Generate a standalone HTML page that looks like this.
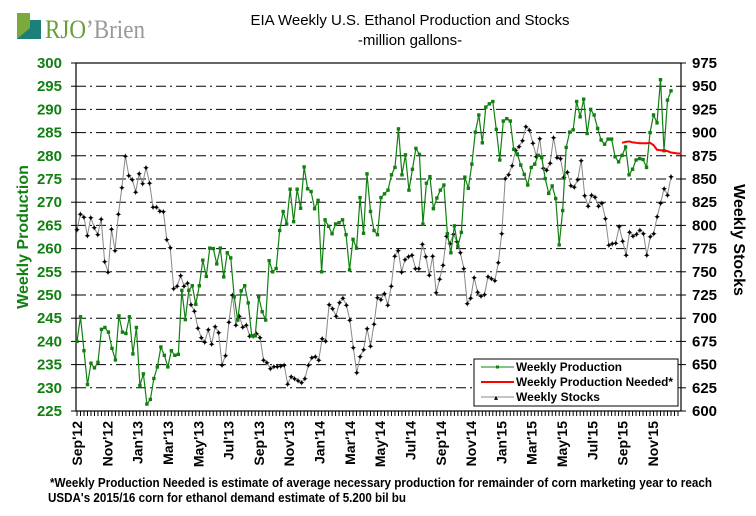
<!DOCTYPE html>
<html><head><meta charset="utf-8"><style>
body{margin:0;background:#fff;}
svg{display:block;font-family:"Liberation Sans",Arial,sans-serif;}
</style></head><body>
<svg id="chart" width="756" height="516" viewBox="0 0 756 516" xmlns="http://www.w3.org/2000/svg">
<rect width="756" height="516" fill="#fff"/>
<g>
<rect x="17" y="13" width="24" height="26" fill="#7aa93c"/>
<polygon points="17,39 41,39 41,20 30,20 30,28" fill="#1b7f7a"/>
<rect x="30" y="13" width="11" height="7" fill="#fff"/>
<text x="45" y="38" font-family="Liberation Serif,serif" font-size="26" fill="#6a9d3a" textLength="100" lengthAdjust="spacingAndGlyphs">RJO<tspan fill="#999">’Brien</tspan></text>
</g>
<text x="410" y="25" text-anchor="middle" font-size="15">EIA Weekly U.S. Ethanol Production and Stocks</text>
<text x="410" y="45" text-anchor="middle" font-size="15">-million gallons-</text>
<g id="grid"></g>
<g id="axes"></g>
<g id="series"></g>
<text transform="translate(28,237) rotate(-90)" text-anchor="middle" font-size="16" font-weight="bold" fill="#118011">Weekly Production</text>
<text transform="translate(734,240) rotate(90)" text-anchor="middle" font-size="16" font-weight="bold" fill="#000">Weekly Stocks</text>
<g>
<rect x="474" y="359" width="204" height="47" fill="#fff" stroke="#000" stroke-width="1"/>
<g>
<line x1="481" y1="367" x2="514" y2="367" stroke="#118011" stroke-width="1"/><rect x="496" y="365.5" width="3" height="3" fill="#118011"/>
<text x="516" y="371" font-size="12" font-weight="bold" textLength="106" lengthAdjust="spacingAndGlyphs">Weekly Production</text></g>
<g>
<line x1="481" y1="382" x2="514" y2="382" stroke="#ff0000" stroke-width="2"/>
<text x="516" y="386" font-size="12" font-weight="bold" textLength="157" lengthAdjust="spacingAndGlyphs">Weekly Production Needed*</text></g>
<g>
<line x1="481" y1="397" x2="514" y2="397" stroke="#888" stroke-width="1"/><text x="494" y="400" font-size="8">▴</text>
<text x="516" y="401" font-size="12" font-weight="bold" textLength="84" lengthAdjust="spacingAndGlyphs">Weekly Stocks</text></g>
</g>
<text x="50" y="487" font-size="13" font-weight="bold" textLength="662" lengthAdjust="spacingAndGlyphs">*Weekly Production Needed is estimate of average necessary production for remainder of corn marketing year to reach</text>
<text x="48" y="502" font-size="13" font-weight="bold" textLength="358" lengthAdjust="spacingAndGlyphs">USDA's  2015/16 corn for ethanol demand estimate of 5.200 bil bu</text>
</svg>
<script>
const prodTicks=[225,230,235,240,245,250,255,260,265,270,275,280,285,290,295,300];
const stockTicks=[600,625,650,675,700,725,750,775,800,825,850,875,900,925,950,975];
const monthLabels=["Sep'12","Nov'12","Jan'13","Mar'13","May'13","Jul'13","Sep'13","Nov'13","Jan'14","Mar'14","May'14","Jul'14","Sep'14","Nov'14","Jan'15","Mar'15","May'15","Jul'15","Sep'15","Nov'15"];
const production=[240,245.3,238,230.7,235.3,234.3,235.5,242.6,243,242,238.5,236,245.5,242,241.7,245.3,237.3,243,230.5,233,226.5,227.5,232,234.5,238.8,237,234.5,238,237,237.2,251,244.7,251,252,248,252,
257.5,254,260.1,260,256.7,260.1,253.9,259.1,258,249.6,244.6,250.9,252,248.3,241.2,241.2,249.6,246.4,244.6,257.4,255,255.7,263.9,
268,265.3,272.8,265.8,272.8,268.7,277.6,272.9,272.3,268.6,270.4,255,266.2,264.8,263.2,265.3,265.6,266.2,263,255.4,262,260.1,271,263.3,276.1,268,263.9,263,271,271.8,272.6,275.9,277.5,285.8,275.9,280.2,272.6,277.1,281.6,280.3,265.3,274.1,275.5,268.6,270.9,272.6,273.7,263.2,259.1,264.9,260.5,263.5,275.4,273,278.2,285.1,288.8,282.8,290.5,291.2,291.7,285.7,279.1,287.5,288,287.5,281.4,280.4,278,276,273.7,277.5,
278.2,280.1,279.6,275.1,271.9,273.5,270.8,260.8,268.2,281.8,285.1,285.6,291.7,288.4,292.2,284.8,290,288.8,285.9,283.4,282.5,283.6,283.6,279.8,278.7,280.1,281.9,275.9,277.1,279.1,279.4,279.2,277.5,285,288.8,287.1,296.4,281.1,292,294];
const stocks=[795.8,812.3,809,788.9,808.6,797.8,790,806.8,760.9,750,796,773,812.3,841,874.8,854,849.7,836,856,845,862.6,845.8,820,820,815.6,815,785,776,732,734.5,745.8,734.8,738,715,707.5,689.7,679,674.5,688,672,691,684.4,649.6,660,696,725,692.7,702.4,690.3,692.7,681,681,683.7,679.4,655,652,646,648,
647.8,648.4,649.6,629,637,635.2,632.6,630.5,635,649.6,657.5,658.6,655,678.3,675.4,715,710.6,702.4,716.8,721.5,714.3,698,668.6,641.3,658.6,666.5,689,670,693.6,722.5,720.4,726.8,714.3,734.8,767,772.8,750,763.5,766.4,768.2,753.8,753.8,780,766.4,746.7,767,727.5,742,757.4,788.6,780.6,790.7,782.4,770.6,753.8,716,721.5,744,728,724,725.8,744.7,743,740.5,759.8,791.5,850.7,855,864.5,880.8,885,891.3,906.4,903,888.6,874.2,893.7,862,859.7,867,894.8,873,872,852,857.6,843,841.5,849.5,870.2,832.4,820.8,833,830.5,820.8,824,807.5,778.8,780.5,781.2,798.6,783.3,768,793,788.6,790.6,795,791.5,768,787.8,791.5,809.5,824,840,832.8,852.7];
const needed=[282.8,283,283.1,282.9,282.8,282.7,282.7,282.7,282.8,282.3,281.3,281.2,281.1,281,280.7,280.6,280.5,280.5];
const neededStartWeek=156;

const NS="http://www.w3.org/2000/svg";
const L=76,R=681,T=63,B=411,X0=77,X1=671;
const nW=production.length-1;
const xWeek=w=>X0+w*(X1-X0)/nW;
const yP=v=>B-(v-225)/75*(B-T);
const yS=v=>B-(v-600)/375*(B-T);
function mk(tag,attrs,parent){const e=document.createElementNS(NS,tag);for(const k in attrs)e.setAttribute(k,attrs[k]);parent.appendChild(e);return e;}
const grid=document.getElementById('grid'),axes=document.getElementById('axes'),ser=document.getElementById('series');
prodTicks.forEach((v,i)=>{
  const y=yP(v);
  if(i>0&&i<prodTicks.length-1){const g=mk('line',{x1:L,x2:R,y1:y,y2:y,stroke:'#000','stroke-width':1,'stroke-dasharray':'10,4,2,4'},grid);
  
  }
  mk('line',{x1:L-5,x2:L,y1:y,y2:y,stroke:'#000'},axes);
  const t=mk('text',{x:62,y:y+5,'text-anchor':'end','font-size':15,'font-weight':'bold',fill:'#118011'},axes);t.textContent=v;
  
  
});
stockTicks.forEach(v=>{
  const y=yS(v);
  mk('line',{x1:R,x2:R+5,y1:y,y2:y,stroke:'#000'},axes);
  const t=mk('text',{x:692,y:y+5,'font-size':15,'font-weight':'bold',fill:'#000'},axes);t.textContent=v;
  
  
});
const frame=mk('rect',{x:L,y:T,width:R-L,height:B-T,fill:'none',stroke:'#000','stroke-width':1.2},axes);


for(let w=0;w<=nW+3;w++){const x=xWeek(w);if(x<R)mk('line',{x1:x,x2:x,y1:B,y2:B+5,stroke:'#000'},axes);}
monthLabels.forEach((m,k)=>{
  const x=X0+k*(653-X0)/(monthLabels.length-1);
  const t=mk('text',{transform:`translate(${x+5},421) rotate(-90)`,'text-anchor':'end','font-size':14,'font-weight':'bold'},axes);t.textContent=m;
  
  
});
// stocks
const sStep=nW/(stocks.length-1);
const sp=mk('polyline',{points:stocks.map((v,i)=>xWeek(i*sStep)+','+yS(v)).join(' '),fill:'none',stroke:'#888','stroke-width':1},ser);


stocks.forEach((v,i)=>{const t=mk('text',{x:xWeek(i*sStep),y:yS(v)+3.5,'text-anchor':'middle','font-size':9,fill:'#000'},ser);t.textContent='✦';
  
  });
// production
const pp=mk('polyline',{points:production.map((v,i)=>xWeek(i)+','+yP(v)).join(' '),fill:'none',stroke:'#118011','stroke-width':1.2},ser);


production.forEach((v,i)=>{const c=mk('rect',{x:xWeek(i)-1.7,y:yP(v)-1.7,width:3.4,height:3.4,fill:'#118011'},ser);
  
  });
// needed
const np=mk('polyline',{points:needed.map((v,i)=>xWeek(neededStartWeek+i)+','+yP(v)).join(' '),fill:'none',stroke:'#ff0000','stroke-width':2},ser);


</script>
</body></html>
